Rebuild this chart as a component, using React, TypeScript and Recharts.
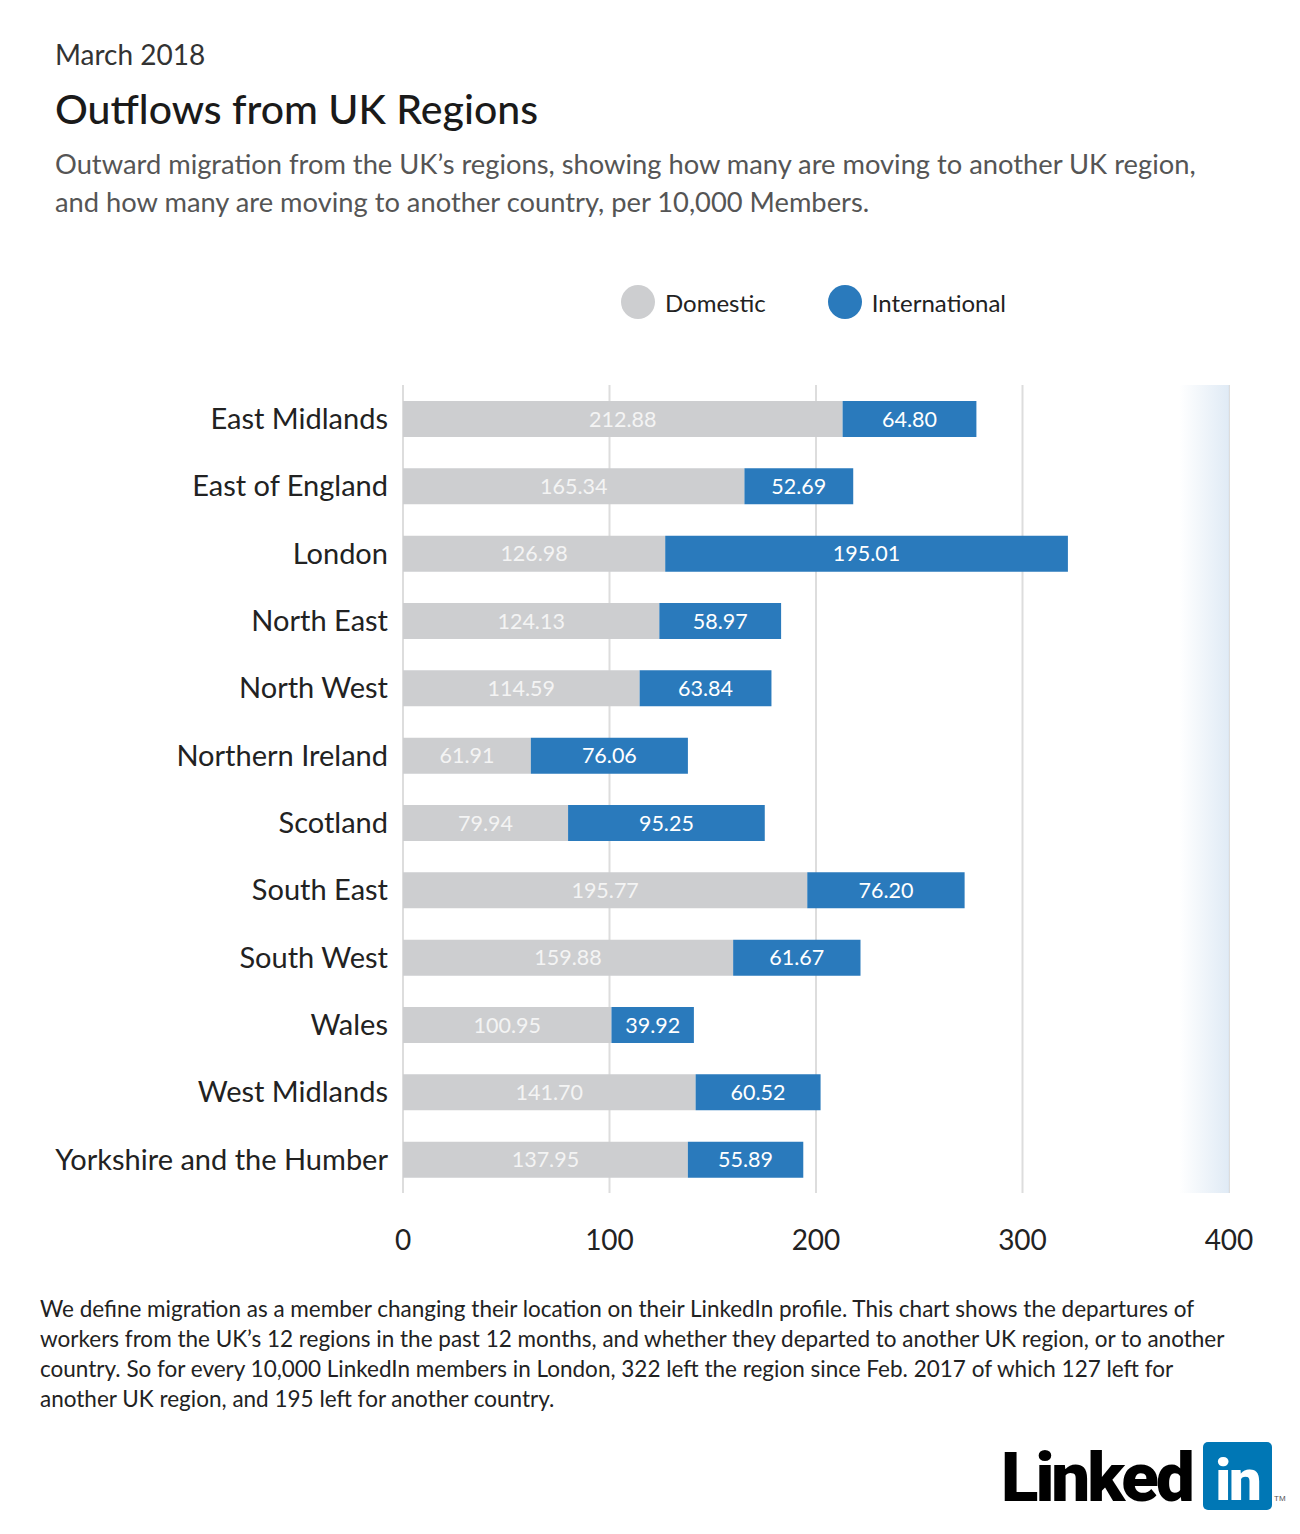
import React from 'react';
import { Bar, BarChart, CartesianGrid, LabelList, Legend, ReferenceArea, XAxis, YAxis } from 'recharts';

const regions = [
  'East Midlands',
  'East of England',
  'London',
  'North East',
  'North West',
  'Northern Ireland',
  'Scotland',
  'South East',
  'South West',
  'Wales',
  'West Midlands',
  'Yorkshire and the Humber',
];
const domestic = [212.88, 165.34, 126.98, 124.13, 114.59, 61.91, 79.94, 195.77, 159.88, 100.95, 141.7, 137.95];
const international = [64.8, 52.69, 195.01, 58.97, 63.84, 76.06, 95.25, 76.2, 61.67, 39.92, 60.52, 55.89];
const xTicks = [0, 100, 200, 300, 400];

const data = regions.map((region, i) => ({
  region,
  domestic: domestic[i],
  international: international[i],
}));

const FONT = 'Lato, "Open Sans", sans-serif';
const GREY = '#cdced0';
const BLUE = '#2a7abc';

const LegendContent = () => (
  <div style={{ display: 'flex', alignItems: 'center', fontFamily: FONT, fontSize: 24, color: '#222', height: 34 }}>
    <span style={{ width: 34, height: 34, borderRadius: 17, background: GREY, display: 'inline-block' }} />
    <span style={{ marginLeft: 10, marginRight: 62 }}>Domestic</span>
    <span style={{ width: 34, height: 34, borderRadius: 17, background: BLUE, display: 'inline-block' }} />
    <span style={{ marginLeft: 10 }}>International</span>
  </div>
);

export default function App() {
  return (
    <div style={{ position: 'absolute', left: 0, top: 0, width: 1300, height: 1534, background: '#fff', fontFamily: FONT }}>
      <div style={{ position: 'absolute', left: 55, top: 37, fontSize: 28, color: '#333' }}>March 2018</div>
      <div style={{ position: 'absolute', left: 55, top: 84, fontSize: 41, color: '#1a1a1a', fontWeight: 500 }}>
        Outflows from UK Regions
      </div>
      <div style={{ position: 'absolute', left: 55, top: 145, fontSize: 27.3, lineHeight: '38px', color: '#555', whiteSpace: 'nowrap' }}>
        Outward migration from the UK’s regions, showing how many are moving to another UK region,
        <br />
        and how many are moving to another country, per 10,000 Members.
      </div>

      <div style={{ position: 'absolute', left: 0, top: 0 }}>
        <BarChart
          width={1300}
          height={1260}
          data={data}
          layout="vertical"
          margin={{ top: 351, right: 71, bottom: 0, left: 0 }}
          barSize={36}
        >
          <defs>
            <linearGradient id="edgeShade" x1="0" y1="0" x2="1" y2="0">
              <stop offset="0%" stopColor="#dce8f4" stopOpacity={0} />
              <stop offset="100%" stopColor="#dce8f4" stopOpacity={0.9} />
            </linearGradient>
          </defs>
          <CartesianGrid horizontal={false} stroke="#dddddd" strokeWidth={2} />
          <ReferenceArea x1={376} x2={400} fill="url(#edgeShade)" fillOpacity={1} stroke="none" />
          <XAxis
            type="number"
            domain={[0, 400]}
            ticks={xTicks}
            axisLine={false}
            tickLine={false}
            tickSize={0}
            tickMargin={37}
            height={67}
            tick={{ fontSize: 28, fill: '#222', fontFamily: FONT }}
          />
          <YAxis
            type="category"
            dataKey="region"
            width={403}
            axisLine={false}
            tickLine={false}
            tickSize={0}
            tickMargin={15}
            interval={0}
            tick={{ fontSize: 29, fill: '#222', fontFamily: FONT }}
          />
          <Legend
            verticalAlign="top"
            content={LegendContent}
            wrapperStyle={{ position: 'absolute', top: 285, left: 621, width: 'auto' }}
          />
          <Bar dataKey="domestic" stackId="a" fill={GREY} isAnimationActive={false}>
            <LabelList
              dataKey="domestic"
              position="center"
              formatter={(v: number) => v.toFixed(2)}
              style={{ fontSize: 21.5, fill: '#f4f4f4', fontFamily: FONT }}
            />
          </Bar>
          <Bar dataKey="international" stackId="a" fill={BLUE} isAnimationActive={false}>
            <LabelList
              dataKey="international"
              position="center"
              formatter={(v: number) => v.toFixed(2)}
              style={{ fontSize: 21.5, fill: '#ffffff', fontFamily: FONT }}
            />
          </Bar>
        </BarChart>
      </div>

      <div style={{ position: 'absolute', left: 40, top: 1294, fontSize: 22.5, lineHeight: '30px', color: '#222', whiteSpace: 'nowrap' }}>
        We define migration as a member changing their location on their LinkedIn profile. This chart shows the departures of
        <br />
        workers from the UK’s 12 regions in the past 12 months, and whether they departed to another UK region, or to another
        <br />
        country. So for every 10,000 LinkedIn members in London, 322 left the region since Feb. 2017 of which 127 left for
        <br />
        another UK region, and 195 left for another country.
      </div>

      <div
        style={{
          position: 'absolute',
          left: 1001,
          top: 1438,
          fontFamily: 'Roboto, Arial, sans-serif',
          fontSize: 69,
          fontWeight: 900,
          color: '#000',
          letterSpacing: -3,
          lineHeight: '80px',
          whiteSpace: 'nowrap',
        }}
      >
        Linked
      </div>
      <div
        style={{
          position: 'absolute',
          left: 1203,
          top: 1442,
          width: 69,
          height: 68,
          borderRadius: 5,
          background: '#0077b5',
          color: '#fff',
          fontFamily: 'Roboto, Arial, sans-serif',
          fontSize: 58,
          fontWeight: 900,
          lineHeight: '76px',
          textAlign: 'center',
          letterSpacing: -2,
        }}
      >
        in
      </div>
      <div style={{ position: 'absolute', left: 1274, top: 1494, fontSize: 8, color: '#555', fontFamily: 'Arial, sans-serif' }}>TM</div>
    </div>
  );
}
